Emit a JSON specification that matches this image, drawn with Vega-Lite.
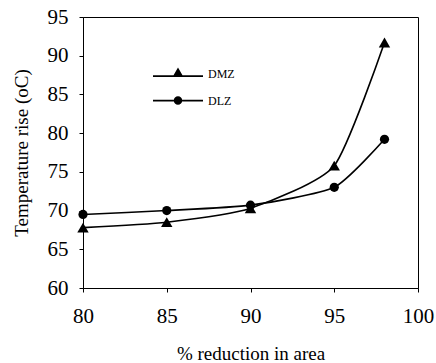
{
  "$schema": "https://vega.github.io/schema/vega-lite/v6.json",
  "width": 335,
  "height": 271,
  "autosize": "none",
  "padding": {"left": 83, "top": 17, "right": 18, "bottom": 75},
  "background": "white",
  "config": {
    "view": {"stroke": "black", "strokeWidth": 1},
    "font": "Liberation Serif",
    "axis": {
      "grid": false,
      "domainColor": "black",
      "tickColor": "black",
      "labelColor": "black",
      "titleColor": "black",
      "labelFont": "Liberation Serif",
      "titleFont": "Liberation Serif",
      "labelFontSize": 21,
      "titleFontSize": 19,
      "titleFontWeight": "normal",
      "tickSize": 4,
      "labelFlush": false
    }
  },
  "data": {
    "values": [
      {"x": 80, "y": 67.8, "s": "DMZ"},
      {"x": 85, "y": 68.5, "s": "DMZ"},
      {"x": 90, "y": 70.3, "s": "DMZ"},
      {"x": 95, "y": 75.8, "s": "DMZ"},
      {"x": 98, "y": 91.7, "s": "DMZ"},
      {"x": 80, "y": 69.5, "s": "DLZ"},
      {"x": 85, "y": 70.0, "s": "DLZ"},
      {"x": 90, "y": 70.7, "s": "DLZ"},
      {"x": 95, "y": 73.0, "s": "DLZ"},
      {"x": 98, "y": 79.2, "s": "DLZ"}
    ]
  },
  "encoding": {
    "x": {
      "field": "x", "type": "quantitative",
      "scale": {"domain": [80, 100], "nice": false, "zero": false},
      "axis": {"values": [80, 85, 90, 95, 100], "title": "% reduction in area", "labelPadding": 13, "titlePadding": 18}
    },
    "y": {
      "field": "y", "type": "quantitative",
      "scale": {"domain": [60, 95], "nice": false, "zero": false},
      "axis": {"values": [60, 65, 70, 75, 80, 85, 90, 95], "title": "Temperature rise (oC)", "labelPadding": 11, "titlePadding": 16}
    }
  },
  "resolve": {"scale": {"shape": "independent", "size": "independent"}, "legend": {"shape": "independent"}},
  "layer": [
    {
      "mark": {"type": "line", "interpolate": "cardinal", "tension": 0.4, "color": "black", "strokeWidth": 1.6},
      "encoding": {"detail": {"field": "s"}}
    },
    {
      "mark": {"type": "point", "filled": true, "color": "black", "opacity": 1},
      "encoding": {
        "shape": {
          "field": "s", "type": "nominal",
          "scale": {"domain": ["DMZ", "DLZ"], "range": ["triangle-up", "circle"]},
          "legend": null
        },
        "size": {
          "field": "s", "type": "nominal",
          "scale": {"domain": ["DMZ", "DLZ"], "range": [130, 85]},
          "legend": null
        }
      }
    },
    {
      "transform": [{"filter": "datum.x < 0"}],
      "mark": {"type": "point", "filled": true, "color": "black", "opacity": 1},
      "encoding": {
        "shape": {
          "field": "s", "type": "nominal",
          "scale": {"domain": ["DMZ", "DLZ"], "range": ["M-1,0.065H1V0.135H-1ZM0,-0.24L0.22,0.14L-0.22,0.14Z", "M-1,-0.035H1V0.035H-1ZM0.17,0A0.17,0.17 0 1,1 -0.17,0A0.17,0.17 0 1,1 0.17,0Z"]},
          "legend": {
            "title": null,
            "orient": "none",
            "legendX": 69,
            "legendY": 43,
            "symbolSize": 2500,
            "symbolFillColor": "black",
            "symbolOpacity": 1,
            "labelFont": "Liberation Serif",
            "labelFontSize": 12,
            "labelColor": "black",
            "rowPadding": 0,
            "clipHeight": 27,
            "labelOffset": 4,
            "padding": 0
          }
        },
        "size": {"value": 2500}
      }
    }
  ]
}
